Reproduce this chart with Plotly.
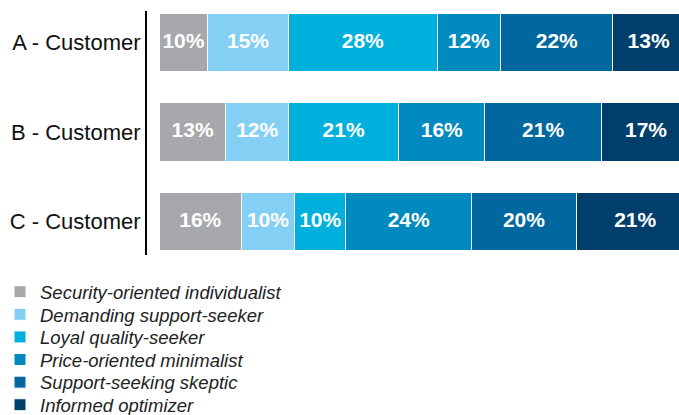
import numpy as np
import plotly.graph_objects as go

categories = ["A - Customer", "B - Customer", "C - Customer"]
segments = [
    "Security-oriented individualist",
    "Demanding support-seeker",
    "Loyal quality-seeker",
    "Price-oriented minimalist",
    "Support-seeking skeptic",
    "Informed optimizer",
]
colors = ["#a7a8ab", "#84cff4", "#00b0dc", "#008ac0", "#00689e", "#003e6b"]

# printed labels (%)
labels_a = [10, 15, 28, 12, 22, 13]
labels_b = [13, 12, 21, 16, 21, 17]
labels_c = [16, 10, 10, 24, 20, 21]

# segment widths (%)
widths_a = [9.2, 15.4, 28.3, 12.1, 21.4, 13.6]
widths_b = [12.7, 11.9, 21.0, 16.4, 22.2, 17.0]
widths_c = [15.6, 10.2, 9.7, 24.0, 19.9, 22.5]

widths = np.array([widths_a, widths_b, widths_c])
labels = np.array([labels_a, labels_b, labels_c])

FONT = "Liberation Sans, Arial, sans-serif"
T, B, L, W, H = 11, 160, 147, 679, 415
plot_h = H - T - B
plot_w = W - L

fig = go.Figure()
legend_rows_px = [292.2, 314.8, 337.4, 360.0, 382.6, 405.2]
legend_layouts = {}
for j, seg in enumerate(segments):
    lg = "legend" if j == 0 else f"legend{j + 1}"
    fig.add_trace(go.Bar(
        y=list(range(len(categories))),
        x=widths[:, j],
        orientation="h",
        name=seg,
        marker=dict(color=colors[j], line=dict(color="white", width=1)),
        width=0.655,
        hoverinfo="skip",
        legend=lg,
    ))
    legend_layouts[lg] = dict(
        x=-L / plot_w, xanchor="left",
        y=(H - B - legend_rows_px[j]) / plot_h, yanchor="middle",
        font=dict(family=FONT, size=18.5, color="#222222", style="italic"),
        bgcolor="rgba(0,0,0,0)",
        itemclick=False, itemdoubleclick=False,
    )

cum = np.cumsum(widths, axis=1)
centers = cum - widths / 2
for i in range(len(categories)):
    fig.add_trace(go.Scatter(
        x=centers[i],
        y=[i] * widths.shape[1],
        mode="text",
        text=[f"{v}%" for v in labels[i]],
        textfont=dict(family=FONT, size=21, color="white", weight="bold"),
        showlegend=False,
        cliponaxis=False,
        hoverinfo="skip",
    ))

fig.update_layout(
    width=W, height=H,
    barmode="stack",
    margin=dict(l=L, r=0, t=T, b=B, autoexpand=False),
    plot_bgcolor="white", paper_bgcolor="white",
    font=dict(family=FONT, color="#111111"),
    showlegend=True,
    xaxis=dict(range=[-2.34, 98.99], visible=False, fixedrange=True),
    yaxis=dict(
        range=[2.373, -0.352],
        tickvals=list(range(len(categories))),
        ticktext=categories,
        tickfont=dict(family=FONT, size=22, color="#111111"),
        showline=True, linecolor="black", linewidth=2,
        showgrid=False, zeroline=False,
        ticks="", ticklabelstandoff=0,
        automargin=False,
        fixedrange=True,
    ),
    **legend_layouts,
)

fig.write_html(
    "out.html",
    config={"displayModeBar": False},
    post_script="document.body.style.margin='0';document.body.style.overflow='hidden';",
)
